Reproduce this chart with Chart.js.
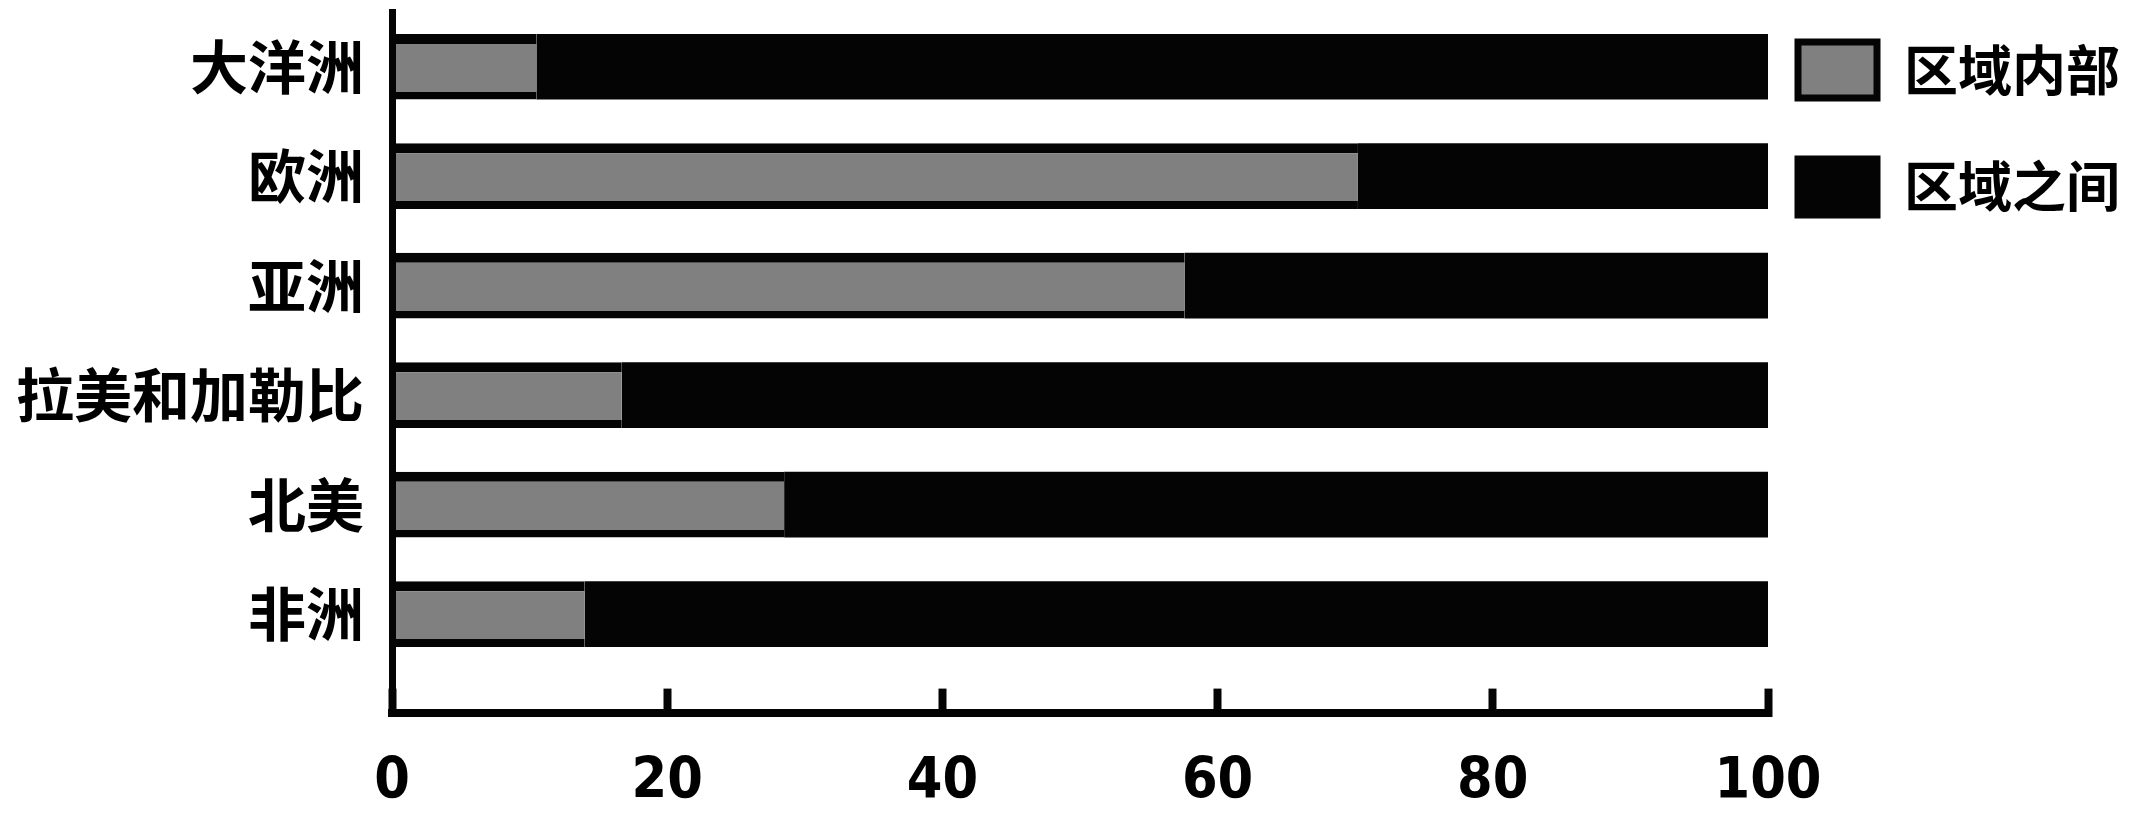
<!DOCTYPE html>
<html>
<head>
<meta charset="utf-8">
<script src="https://cdn.jsdelivr.net/npm/chart.js@4/dist/chart.umd.min.js"></script>
<style>
  html, body { margin: 0; padding: 0; background: #fff; }
  #wrap { width: 2152px; height: 829px; }
</style>
</head>
<body>
<div id="wrap"><canvas id="chart"></canvas></div>
<script>
const regions = ['大洋洲', '欧洲', '亚洲', '拉美和加勒比', '北美', '非洲'];
const seriesNames = ['区域内部', '区域之间'];
const intraRegional = [10.5, 70.2, 57.6, 16.7, 28.5, 14.0];
const interRegional = [89.5, 29.8, 42.4, 83.3, 71.5, 86.0];
const xTicks = [0, 20, 40, 60, 80, 100];

const GRAY = '#808080';
const BLACK = '#040404';
const X_PAD = 60;
const Y_PAD = 28;

Chart.defaults.font.family = "'Noto Sans CJK SC', sans-serif";
Chart.defaults.color = '#000';

// regions sit on a numeric index axis so the slot below the last bar can be left open
const toPoints = vals => vals.map((v, i) => ({ x: v, y: i }));

new Chart(document.getElementById('chart'), {
  type: 'bar',
  data: {
    datasets: [
      {
        label: seriesNames[0],
        data: toPoints(intraRegional),
        backgroundColor: GRAY,
        borderColor: BLACK,
        borderWidth: { top: 10, bottom: 8, left: 0, right: 0 },
        borderSkipped: false,
        barPercentage: 0.6,
        categoryPercentage: 1,
      },
      {
        label: seriesNames[1],
        data: toPoints(interRegional),
        backgroundColor: BLACK,
        borderWidth: 0,
        barPercentage: 0.6,
        categoryPercentage: 1,
      },
    ],
  },
  options: {
    indexAxis: 'y',
    responsive: true,
    maintainAspectRatio: false,
    animation: false,
    layout: { padding: { top: 12, left: 16, right: 22, bottom: 12 } },
    plugins: {
      tooltip: { enabled: false },
      legend: {
        position: 'right',
        align: 'start',
        labels: {
          boxWidth: 79,
          boxHeight: 56,
          padding: 30,
          // single-line arrays: legend rows then step by font lineHeight instead of box height
          font: { size: 54, weight: 'bold', lineHeight: 1.61 },
          color: '#000',
          generateLabels: chart => chart.data.datasets.map((ds, i) => ({
            text: [ds.label],
            fillStyle: ds.backgroundColor,
            strokeStyle: BLACK,
            lineWidth: 7,
            datasetIndex: i,
          })),
        },
      },
    },
    scales: {
      x: {
        type: 'linear',
        stacked: true,
        min: 0,
        max: 100,
        afterBuildTicks: scale => { scale.ticks = xTicks.map(v => ({ value: v })); },
        // chart.js reserves tick padding on both sides of the labels; keep only the inner one
        afterFit: scale => { scale.height -= X_PAD; },
        border: { display: true, color: BLACK, width: 8 },
        grid: {
          drawOnChartArea: false,
          drawTicks: true,
          tickLength: -24,
          tickWidth: 8,
          tickColor: BLACK,
        },
        ticks: {
          padding: X_PAD,
          font: { family: "'Liberation Sans Narrow', 'DejaVu Sans Condensed', 'Liberation Sans', sans-serif", size: 57, weight: 'bold' },
          color: '#000',
        },
      },
      y: {
        type: 'linear',
        stacked: true,
        reverse: true,
        offset: false,
        min: -0.5,
        max: 5.9,
        afterBuildTicks: scale => { scale.ticks = regions.map((_, i) => ({ value: i })); },
        afterFit: scale => {
          scale.width -= Y_PAD;
          scale.paddingTop = 0;
          scale.paddingBottom = 0;
        },
        border: { display: true, color: BLACK, width: 7, z: 1 },
        grid: { display: false, drawTicks: false, offset: false },
        ticks: {
          padding: Y_PAD,
          font: { size: 58, weight: 'bold' },
          color: '#000',
          callback: v => regions[v],
        },
      },
    },
  },
});
</script>
</body>
</html>
